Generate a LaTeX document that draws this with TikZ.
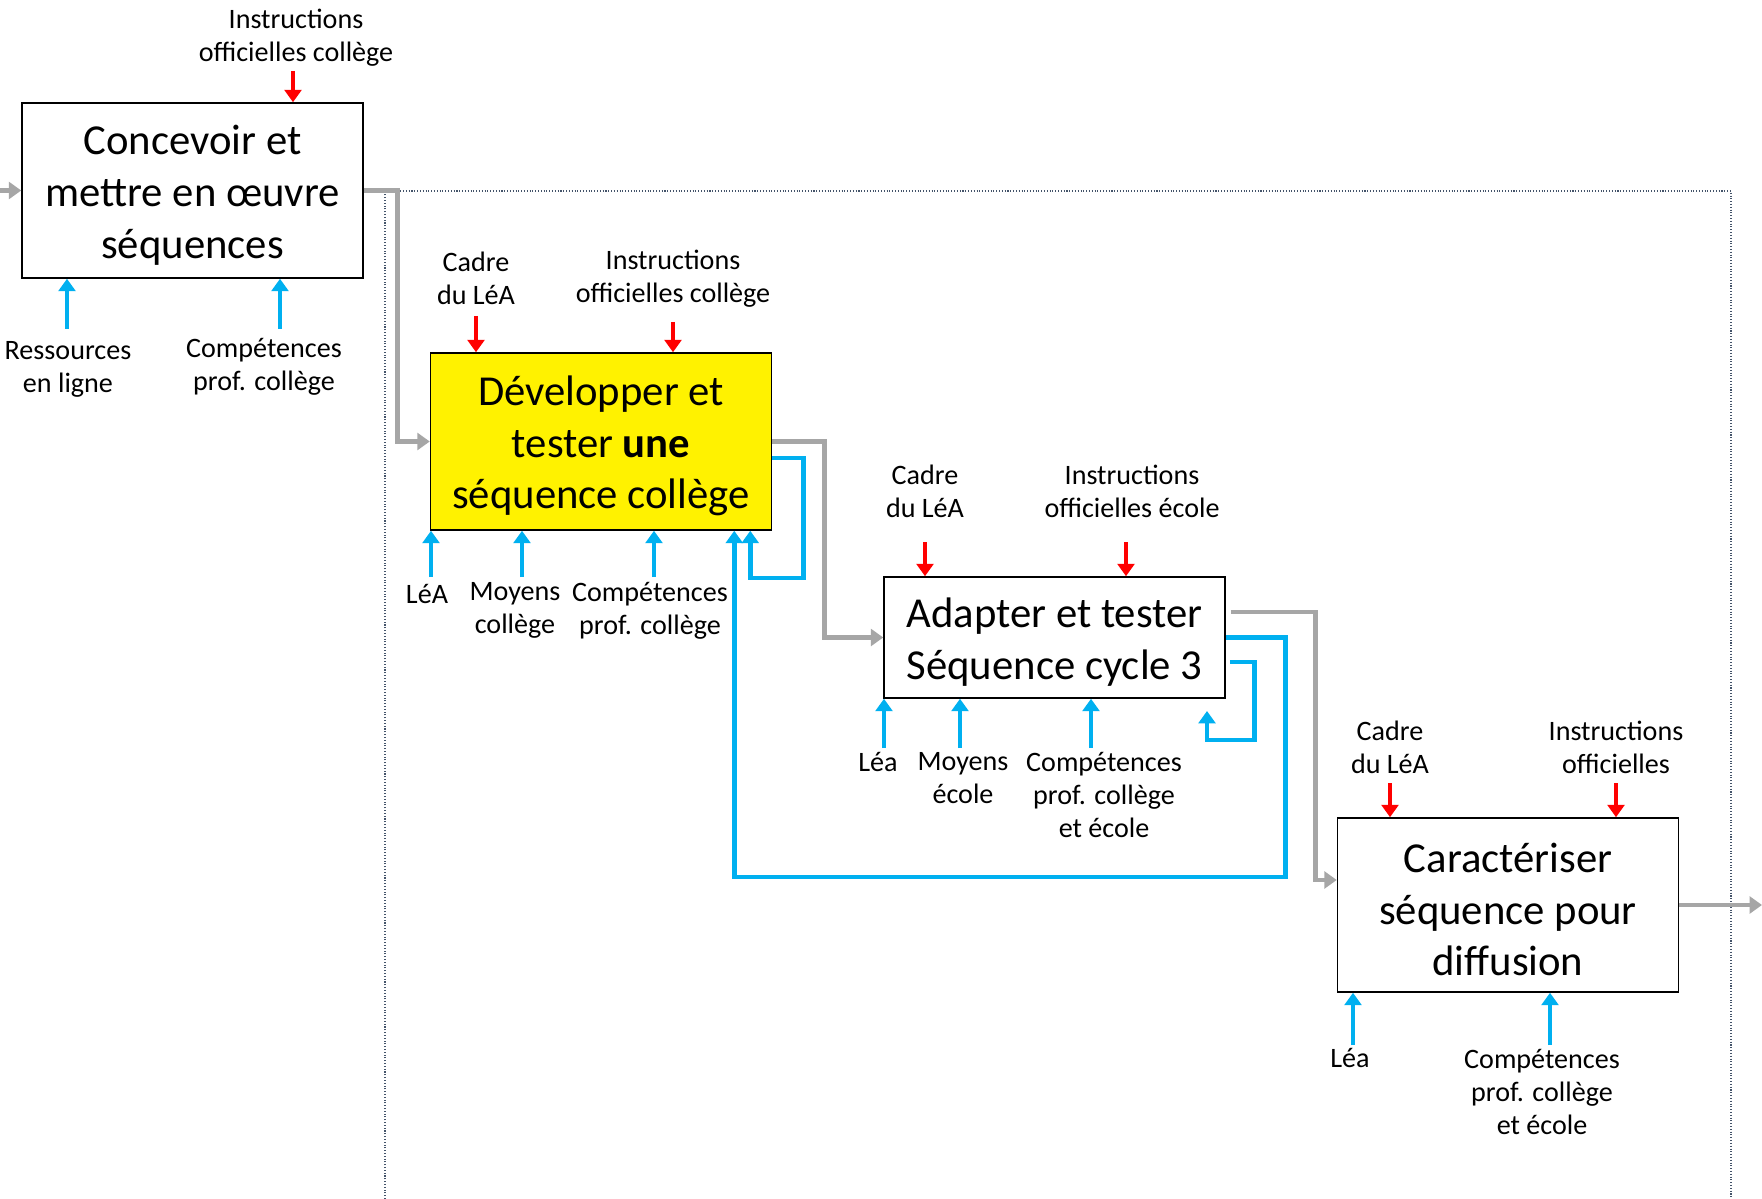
\documentclass[tikz,border=0pt]{standalone}
\usepackage{fontspec}
\setmainfont{Carlito}
\usetikzlibrary{arrows.meta}
\definecolor{flowgray}{RGB}{166,166,166}
\definecolor{mechblue}{RGB}{0,176,240}
\definecolor{ctrlred}{RGB}{255,0,0}
\definecolor{framecol}{RGB}{68,84,106}
\tikzset{
  box/.style={draw,line width=0.9pt,minimum width=6.82cm,inner sep=0pt},
  boxtxt/.style={align=center,inner sep=0pt,shift={(0,4.5)},font=\fontsize{24.3}{29.5}\selectfont},
  lbl/.style={align=center,inner sep=0pt,font=\fontsize{16}{18.7}\selectfont},
  ctrl/.style={ctrlred,line width=2.6pt,-{Triangle[width=9.5pt,length=7pt]}},
  mech/.style={mechblue,line width=2.6pt,-{Triangle[width=9.5pt,length=7pt]}},
  flow/.style={flowgray,line width=2.6pt,-{Triangle[width=9.5pt,length=7pt]}},
}
\begin{document}
\begin{tikzpicture}[x=0.02cm,y=-0.02cm]
\useasboundingbox[fill=white] (0,0) rectangle (1762,1199);
% cadre pointille
\draw[framecol,line width=0.6pt,densely dotted] (385,1199) -- (385,191) -- (1731,191) -- (1731,1199);
% boites
\node[box,minimum height=3.5cm,label={[boxtxt]center:{Concevoir et\\mettre en \oe uvre\\séquences}}] (concevoir) at (192.5,190.5) {};
\node[box,fill=yellow,minimum height=3.54cm,label={[boxtxt]center:{Développer et\\tester \textbf{une}\\séquence collège}}] (developper) at (601,441.5) {};
\node[box,minimum height=2.42cm,label={[boxtxt]center:{Adapter et tester\\Séquence cycle 3}}] (adapter) at (1054.5,637.5) {};
\node[box,minimum height=3.48cm,label={[boxtxt]center:{Caractériser\\séquence pour\\diffusion}}] (caracteriser) at (1508,905) {};
% etiquettes
\node[lbl] (io1) at (296,37.5) {Instructions\\officielles collège};
\node[lbl] (res1) at (68,369.5) {Ressources\\en ligne};
\node[lbl] (comp1) at (264,367) {Compétences\\prof. collège};
\node[lbl] (cadre2) at (476,278.5) {Cadre\\du LéA};
\node[lbl] (io2) at (673,278.5) {Instructions\\officielles collège};
\node[lbl] (lea2) at (427,594) {LéA};
\node[lbl] (moy2) at (515,610.5) {Moyens\\collège};
\node[lbl] (comp2) at (650,610.5) {Compétences\\prof. collège};
\node[lbl] (cadre3) at (925,491) {Cadre\\du LéA};
\node[lbl] (io3) at (1132,491) {Instructions\\officielles école};
\node[lbl] (lea3) at (878,762) {Léa};
\node[lbl] (moy3) at (963,778.5) {Moyens\\école};
\node[lbl] (comp3) at (1104,795) {Compétences\\prof. collège\\et école};
\node[lbl] (cadre4) at (1390,747.5) {Cadre\\du LéA};
\node[lbl] (io4) at (1616,747.5) {Instructions\\officielles};
\node[lbl] (lea4) at (1350,1058) {Léa};
\node[lbl] (comp4) at (1542,1092) {Compétences\\prof. collège\\et école};
% extremites libres
\coordinate (c1) at (293,71);
\coordinate (r1) at (67,329);
\coordinate (k1) at (280,329);
\coordinate (c2a) at (476,316);
\coordinate (c2b) at (673,322);
\coordinate (m2a) at (431,577);
\coordinate (m2b) at (522,577);
\coordinate (m2c) at (654,577);
\coordinate (c3a) at (925,542);
\coordinate (c3b) at (1126,542);
\coordinate (m3a) at (884,748);
\coordinate (m3b) at (960,748);
\coordinate (m3c) at (1091,748);
\coordinate (c4a) at (1390,783);
\coordinate (c4b) at (1616,783);
\coordinate (m4a) at (1353,1045);
\coordinate (m4b) at (1550,1045);
\coordinate (fb3) at (1207,711);
\coordinate (in1) at (0,190.5);
\coordinate (out4) at (1762,905);
% controles
\draw[ctrl] (c1) -- (concevoir.north -| c1);
\draw[ctrl] (c2a) -- (developper.north -| c2a);
\draw[ctrl] (c2b) -- (developper.north -| c2b);
\draw[ctrl] (c3a) -- (adapter.north -| c3a);
\draw[ctrl] (c3b) -- (adapter.north -| c3b);
\draw[ctrl] (c4a) -- (caracteriser.north -| c4a);
\draw[ctrl] (c4b) -- (caracteriser.north -| c4b);
% mecanismes
\draw[mech] (r1) -- (concevoir.south -| r1);
\draw[mech] (k1) -- (concevoir.south -| k1);
\draw[mech] (m2a) -- (developper.south -| m2a);
\draw[mech] (m2b) -- (developper.south -| m2b);
\draw[mech] (m2c) -- (developper.south -| m2c);
\draw[mech] (m3a) -- (adapter.south -| m3a);
\draw[mech] (m3b) -- (adapter.south -| m3b);
\draw[mech] (m3c) -- (adapter.south -| m3c);
\draw[mech] (m4a) -- (caracteriser.south -| m4a);
\draw[mech] (m4b) -- (caracteriser.south -| m4b);
% retours
\draw[mech] ([shift={(0,16.5)}]developper.east) -- ++(31,0) -- ++(0,120) -| ([shift={(-22,0)}]developper.south east);
\draw[mech] (adapter.east) -- ++(60,0) -- ++(0,239.5) -| ([shift={(-38,0)}]developper.south east);
\draw[mech] ([shift={(4,24.5)}]adapter.east) -- ++(25,0) -- ++(0,78) -| (fb3);
% flux
\draw[flow] (in1) -- (concevoir.west);
\draw[flow] (concevoir.east) -- ++(34,0) |- (developper.west);
\draw[flow] (developper.east) -- ++(52,0) |- (adapter.west);
\draw[flow] ([shift={(5,-25.5)}]adapter.east) -- ++(85,0) |- ([shift={(0,-25)}]caracteriser.west);
\draw[flow] (caracteriser.east) -- (out4);
\end{tikzpicture}
\end{document}
